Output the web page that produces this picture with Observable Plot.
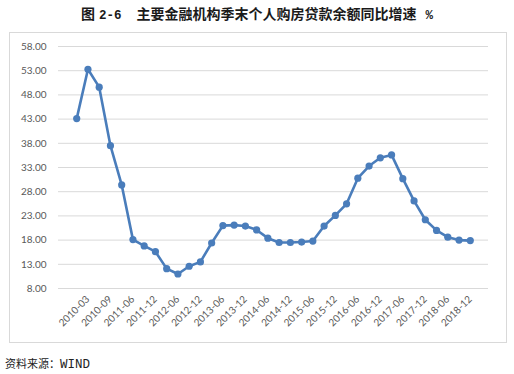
<!DOCTYPE html>
<html>
<head>
<meta charset="utf-8">
<script src="https://cdn.jsdelivr.net/npm/d3@7"></script>
<script src="https://cdn.jsdelivr.net/npm/@observablehq/plot@0.6"></script>
<style>
  html, body { margin: 0; padding: 0; background: #fff; }
  body { width: 514px; height: 374px; position: relative; overflow: hidden; }
  #title { position: absolute; left: 81px; top: 6px; line-height: 14px; white-space: nowrap;
           font-family: "Noto Sans CJK SC", sans-serif; font-weight: bold; font-size: 14px; color: #1a1a1a; }
  #title .m { font-family: "Liberation Mono", monospace; font-size: 12.5px; font-weight: bold; }
  #chart { position: absolute; left: 10px; top: 33px; width: 496px; height: 309px; outline: 1px solid #d9d9d9; }
  #caption { position: absolute; left: 5px; top: 357px; line-height: 12px; white-space: nowrap;
             font-family: "Noto Sans CJK SC", sans-serif; font-size: 11px; color: #222; }
  #caption .m { font-family: "Liberation Mono", monospace; font-size: 12.5px; }
</style>
</head>
<body>
<div id="title"><span>图</span><span class="m" style="margin-left:4px">2-6</span><span style="margin-left:15px">主要金融机构季末个人购房贷款余额同比增速</span><span class="m" style="margin-left:9px">%</span></div>
<div id="chart"></div>
<div id="caption">资料来源：<span class="m">WIND</span></div>
<script>
const quarters = [
  "2009-12","2010-03","2010-06","2010-09","2010-12","2011-06","2011-09","2011-12",
  "2012-03","2012-06","2012-09","2012-12","2013-03","2013-06","2013-09","2013-12",
  "2014-03","2014-06","2014-09","2014-12","2015-03","2015-06","2015-09","2015-12",
  "2016-03","2016-06","2016-09","2016-12","2017-03","2017-06","2017-09","2017-12",
  "2018-03","2018-06","2018-09","2018-12"
];
const growth = [
  43.1, 53.3, 49.6, 37.5, 29.4, 18.1, 16.8, 15.6,
  12.1, 11.0, 12.6, 13.5, 17.4, 21.0, 21.1, 20.9,
  20.1, 18.4, 17.5, 17.5, 17.6, 17.8, 20.9, 23.1,
  25.5, 30.8, 33.3, 35.0, 35.6, 30.7, 26.1, 22.2,
  20.0, 18.6, 18.0, 17.9
];
const xTickLabels = [
  "2010-03","2010-09","2011-06","2011-12","2012-06","2012-12","2013-06","2013-12",
  "2014-06","2014-12","2015-06","2015-12","2016-06","2016-12","2017-06","2017-12",
  "2018-06","2018-12"
];
const yTicks = [8, 13, 18, 23, 28, 33, 38, 43, 48, 53, 58];

const data = quarters.map((q, i) => ({q, v: growth[i]}));
const blue = "#4a7dbb";

const chart = Plot.plot({
  width: 496,
  height: 309,
  marginLeft: 48,
  marginRight: 18,
  marginTop: 13,
  marginBottom: 54,
  style: {fontFamily: "Lato, sans-serif", fontSize: "10px", color: "#595959", background: "transparent"},
  x: {type: "point", domain: quarters, padding: 1.62, round: false, ticks: xTickLabels, tickRotate: -45,
      tickSize: 0, tickPadding: 9, label: null},
  y: {domain: [8, 58], ticks: yTicks, tickFormat: d => d.toFixed(2), tickSize: 0, tickPadding: 12, label: null},
  marks: [
    Plot.ruleY(yTicks, {stroke: "#d9d9d9", strokeWidth: 1}),
    Plot.lineY(data, {x: "q", y: "v", stroke: blue, strokeWidth: 2.6}),
    Plot.dot(data, {x: "q", y: "v", r: 3.6, fill: blue, stroke: "none"})
  ]
});
document.getElementById("chart").appendChild(chart);
</script>
</body>
</html>
